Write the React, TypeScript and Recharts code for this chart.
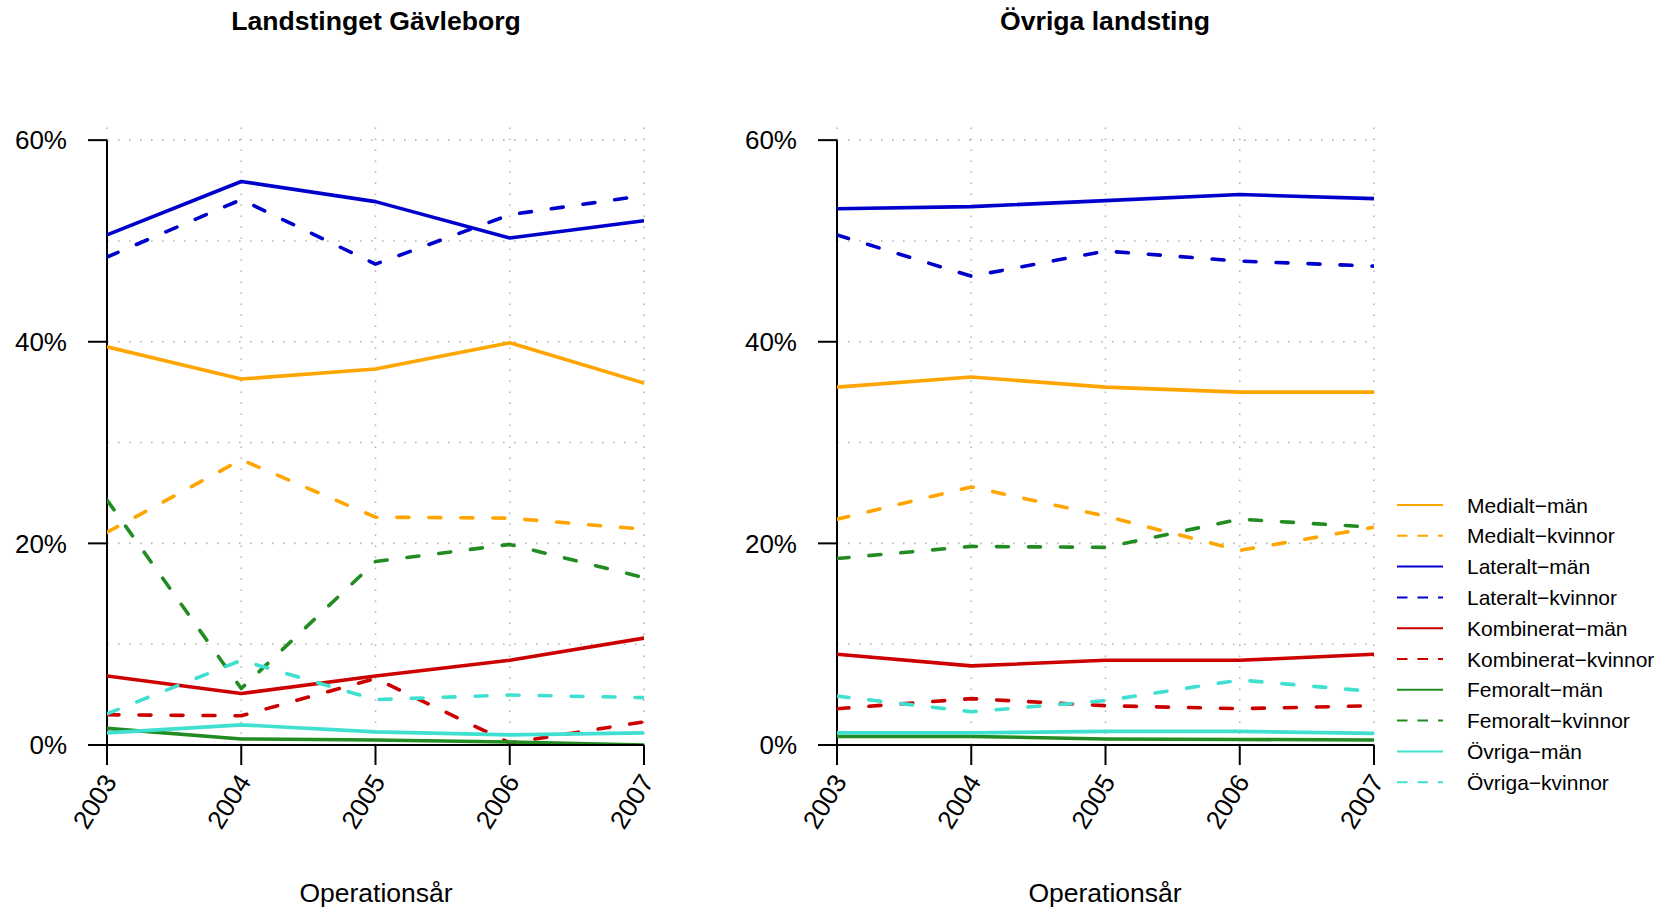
import React from "react";
import { LineChart, Line, XAxis, YAxis, ReferenceLine } from "recharts";

const FONT = "'Liberation Sans', Arial, Helvetica, sans-serif";

const years = [2003, 2004, 2005, 2006, 2007];
const yTicks = [0, 20, 40, 60];
const gridValues = [10, 20, 30, 40, 50, 60];

// Landstinget Gävleborg (percent)
const gMedialtMan = [39.5, 36.3, 37.3, 39.9, 35.9];
const gMedialtKvinnor = [21.1, 28.3, 22.6, 22.5, 21.4];
const gLateraltMan = [50.6, 55.9, 53.9, 50.3, 52.0];
const gLateraltKvinnor = [48.4, 54.1, 47.7, 52.6, 54.5];
const gKombineratMan = [6.85, 5.1, 6.85, 8.4, 10.6];
const gKombineratKvinnor = [3.0, 2.9, 6.6, 0.2, 2.3];
const gFemoraltMan = [1.65, 0.6, 0.5, 0.3, 0.0];
const gFemoraltKvinnor = [24.3, 5.6, 18.2, 19.9, 16.6];
const gOvrigaMan = [1.2, 2.0, 1.3, 1.0, 1.2];
const gOvrigaKvinnor = [3.1, 8.4, 4.5, 4.96, 4.7];

// Övriga landsting (percent)
const oMedialtMan = [35.5, 36.5, 35.5, 35.0, 35.0];
const oMedialtKvinnor = [22.4, 25.6, 22.7, 19.3, 21.6];
const oLateraltMan = [53.2, 53.4, 54.0, 54.6, 54.2];
const oLateraltKvinnor = [50.6, 46.5, 49.0, 48.0, 47.5];
const oKombineratMan = [9.0, 7.85, 8.4, 8.4, 9.0];
const oKombineratKvinnor = [3.6, 4.6, 3.9, 3.6, 3.9];
const oFemoraltMan = [0.85, 0.85, 0.6, 0.55, 0.5];
const oFemoraltKvinnor = [18.5, 19.7, 19.6, 22.4, 21.6];
const oOvrigaMan = [1.2, 1.2, 1.35, 1.35, 1.15];
const oOvrigaKvinnor = [4.85, 3.3, 4.4, 6.45, 5.3];

const seriesDefs = [
  { key: "medialtMan", label: "Medialt−män", color: "#FFA500", dashed: false },
  { key: "medialtKvinnor", label: "Medialt−kvinnor", color: "#FFA500", dashed: true },
  { key: "lateraltMan", label: "Lateralt−män", color: "#0000CD", dashed: false },
  { key: "lateraltKvinnor", label: "Lateralt−kvinnor", color: "#0000CD", dashed: true },
  { key: "kombineratMan", label: "Kombinerat−män", color: "#CD0000", dashed: false },
  { key: "kombineratKvinnor", label: "Kombinerat−kvinnor", color: "#CD0000", dashed: true },
  { key: "femoraltMan", label: "Femoralt−män", color: "#228B22", dashed: false },
  { key: "femoraltKvinnor", label: "Femoralt−kvinnor", color: "#228B22", dashed: true },
  { key: "ovrigaMan", label: "Övriga−män", color: "#40E0D0", dashed: false },
  { key: "ovrigaKvinnor", label: "Övriga−kvinnor", color: "#40E0D0", dashed: true },
];

function buildRows(cols: Record<string, number[]>) {
  return years.map((year, i) => {
    const row: Record<string, number> = { year };
    Object.keys(cols).forEach((k) => {
      row[k] = cols[k][i];
    });
    return row;
  });
}

const gavleborgRows = buildRows({
  medialtMan: gMedialtMan,
  medialtKvinnor: gMedialtKvinnor,
  lateraltMan: gLateraltMan,
  lateraltKvinnor: gLateraltKvinnor,
  kombineratMan: gKombineratMan,
  kombineratKvinnor: gKombineratKvinnor,
  femoraltMan: gFemoraltMan,
  femoraltKvinnor: gFemoraltKvinnor,
  ovrigaMan: gOvrigaMan,
  ovrigaKvinnor: gOvrigaKvinnor,
});

const ovrigaRows = buildRows({
  medialtMan: oMedialtMan,
  medialtKvinnor: oMedialtKvinnor,
  lateraltMan: oLateraltMan,
  lateraltKvinnor: oLateraltKvinnor,
  kombineratMan: oKombineratMan,
  kombineratKvinnor: oKombineratKvinnor,
  femoraltMan: oFemoraltMan,
  femoraltKvinnor: oFemoraltKvinnor,
  ovrigaMan: oOvrigaMan,
  ovrigaKvinnor: oOvrigaKvinnor,
});

const XTick = (props: any) => {
  const { x, y, payload } = props;
  return (
    <text
      x={0}
      y={0}
      transform={`translate(${x + 3},${y + 10}) rotate(-58)`}
      textAnchor="end"
      dominantBaseline="central"
      fontSize={26}
      fontFamily={FONT}
      fill="#000"
    >
      {payload.value}
    </text>
  );
};

const GRID = { stroke: "#b5b5b5", strokeWidth: 1.6, strokeDasharray: "1.6 9.4" };

function Panel({ rows, left }: { rows: any[]; left: number }) {
  return (
    <div style={{ position: "absolute", left, top: 0, width: 700, height: 909 }}>
      <LineChart
        width={700}
        height={909}
        data={rows}
        margin={{ top: 123, right: 56, bottom: 64, left: 7 }}
      >
        <XAxis
          dataKey="year"
          type="number"
          domain={[2003, 2007]}
          ticks={years}
          interval={0}
          allowDataOverflow
          height={100}
          tickSize={20}
          axisLine={{ stroke: "#000", strokeWidth: 2 }}
          tickLine={{ stroke: "#000", strokeWidth: 2 }}
          tick={<XTick />}
        />
        <YAxis
          type="number"
          domain={[0, 61.7]}
          ticks={yTicks}
          interval={0}
          allowDataOverflow
          width={100}
          axisLine={false}
          tickSize={19}
          tickMargin={21}
          tickLine={{ stroke: "#000", strokeWidth: 2 }}
          tickFormatter={(v: number) => `${v}%`}
          tick={{ fill: "#000", fontSize: 26, fontFamily: FONT }}
        />
        {gridValues.map((v) => (
          <ReferenceLine key={`h${v}`} y={v} {...GRID} />
        ))}
        {years.map((v) => (
          <ReferenceLine key={`v${v}`} x={v} {...GRID} />
        ))}
        <ReferenceLine
          segment={[
            { x: 2003, y: 0 },
            { x: 2003, y: 60 },
          ]}
          stroke="#000"
          strokeWidth={2}
        />
        {seriesDefs.map((s) => (
          <Line
            key={s.key}
            dataKey={s.key}
            type="linear"
            stroke={s.color}
            strokeWidth={3.6}
            strokeDasharray={s.dashed ? "12 20" : undefined}
            strokeLinecap="round"
            strokeLinejoin="round"
            dot={false}
            activeDot={false}
            isAnimationActive={false}
          />
        ))}
      </LineChart>
    </div>
  );
}

export default function App() {
  return (
    <div
      style={{
        position: "fixed",
        left: 0,
        top: 0,
        width: 1677,
        height: 909,
        background: "#fff",
        overflow: "hidden",
      }}
    >
      <Panel rows={gavleborgRows} left={0} />
      <Panel rows={ovrigaRows} left={730} />
      <svg
        width={1677}
        height={909}
        style={{ position: "absolute", left: 0, top: 0, pointerEvents: "none" }}
      >
        <g fontFamily={FONT} fill="#000">
          <text x={376} y={21} textAnchor="middle" dominantBaseline="central" fontSize={26.6} fontWeight="bold">
            Landstinget Gävleborg
          </text>
          <text x={1105} y={21} textAnchor="middle" dominantBaseline="central" fontSize={26.6} fontWeight="bold">
            Övriga landsting
          </text>
          <text x={376} y={893} textAnchor="middle" dominantBaseline="central" fontSize={26.5}>
            Operationsår
          </text>
          <text x={1105} y={893} textAnchor="middle" dominantBaseline="central" fontSize={26.5}>
            Operationsår
          </text>
        </g>
        <g fontFamily={FONT}>
          {seriesDefs.map((s, i) => {
            const y = 505 + i * 30.8;
            return (
              <g key={s.key}>
                <line
                  x1={1397}
                  x2={1443}
                  y1={y}
                  y2={y}
                  stroke={s.color}
                  strokeWidth={2}
                  strokeDasharray={s.dashed ? "10.5 10" : undefined}
                />
                <text x={1467} y={y} dominantBaseline="central" fontSize={21} fill="#000">
                  {s.label}
                </text>
              </g>
            );
          })}
        </g>
      </svg>
    </div>
  );
}
